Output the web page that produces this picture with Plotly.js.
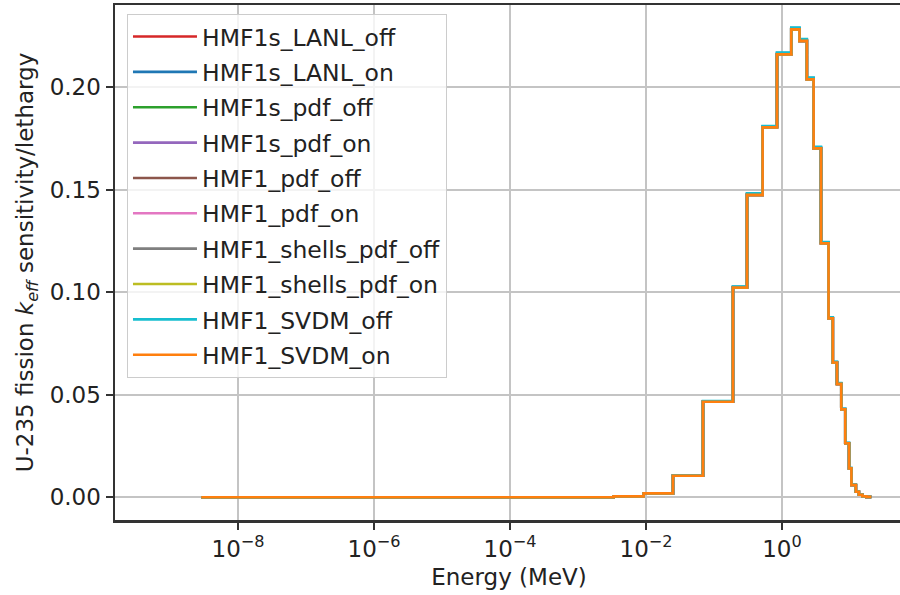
<!DOCTYPE html>
<html>
<head>
<meta charset="utf-8">
<script src="https://cdn.plot.ly/plotly-3.0.1.min.js"></script>
<style>
  html, body { margin: 0; padding: 0; overflow: hidden; background: #fff; }
  #chart { width: 903px; height: 595px; }
</style>
</head>
<body>
<div id="chart"></div>
<script>
// Energy group edges (MeV)
const energyEdges = [2.88e-9, 3.34e-3, 9.22e-3, 0.0249, 0.0689, 0.190, 0.306, 0.519, 0.844,
  1.37, 1.81, 2.32, 2.92, 3.75, 4.84, 5.59, 6.44, 7.45, 8.53, 9.70, 10.5, 12.2, 13.5, 15.2, 17.4, 20.6];

// Sensitivity per lethargy for each group (one value per group)
const sensCommon = [0.0000, 0.0004, 0.0019, 0.0105, 0.0466, 0.1023, 0.1475, 0.1805, 0.2161,
  0.2282, 0.2226, 0.2039, 0.1702, 0.1239, 0.0873, 0.0657, 0.0553, 0.0429, 0.0263, 0.0141,
  0.0060, 0.0027, 0.0012, 0.0005, 0.0002];
const sensLANLon = [0.0000, 0.0004, 0.0019, 0.0105, 0.0468, 0.1026, 0.1480, 0.1809, 0.2167,
  0.2289, 0.2233, 0.2045, 0.1707, 0.1243, 0.0877, 0.0660, 0.0556, 0.0431, 0.0264, 0.0142,
  0.0060, 0.0027, 0.0012, 0.0005, 0.0002];
const sensSVDMoff = [0.0000, 0.0004, 0.0019, 0.0106, 0.0469, 0.1028, 0.1482, 0.1811, 0.2169,
  0.2291, 0.2235, 0.2047, 0.1709, 0.1245, 0.0878, 0.0661, 0.0557, 0.0432, 0.0265, 0.0142,
  0.0061, 0.0027, 0.0012, 0.0005, 0.0002];

const seriesNames = ['HMF1s_LANL_off', 'HMF1s_LANL_on', 'HMF1s_pdf_off', 'HMF1s_pdf_on',
  'HMF1_pdf_off', 'HMF1_pdf_on', 'HMF1_shells_pdf_off', 'HMF1_shells_pdf_on',
  'HMF1_SVDM_off', 'HMF1_SVDM_on'];
const seriesValues = [sensCommon, sensLANLon, sensCommon, sensCommon, sensCommon, sensCommon,
  sensCommon, sensCommon, sensSVDMoff, sensCommon];
const seriesColors = ['#d62728', '#1f77b4', '#2ca02c', '#9467bd', '#8c564b', '#e377c2',
  '#7f7f7f', '#bcbd22', '#17becf', '#ff7f0e'];

const xTickVals = [1e-8, 1e-6, 1e-4, 1e-2, 1e0];
const xTickText = ['10<sup>−8</sup>', '10<sup>−6</sup>', '10<sup>−4</sup>', '10<sup>−2</sup>', '10<sup>0</sup>'];
const yTickVals = [0, 0.05, 0.10, 0.15, 0.20];

const FONT = 'DejaVu Sans, sans-serif';

const traces = seriesNames.map((name, i) => {
  const vals = seriesValues[i];
  return {
    type: 'scatter',
    mode: 'lines',
    name: name,
    legendgroup: 'g' + i,
    x: energyEdges.slice(),
    y: vals.concat([vals[vals.length - 1]]),
    line: { shape: 'hv', color: seriesColors[i], width: 2.6 }
  };
});

const layout = {
  width: 903,
  height: 595,
  margin: { l: 115, r: 0, t: 5, b: 75 },
  paper_bgcolor: '#ffffff',
  plot_bgcolor: '#ffffff',
  font: { family: FONT, size: 23, color: '#222' },
  showlegend: true,
  legend: {
    x: 0.0152, y: 0.983, xanchor: 'left', yanchor: 'top',
    bgcolor: 'rgba(255,255,255,0.8)',
    bordercolor: '#cccccc', borderwidth: 1,
    font: { family: FONT, size: 23.5, color: '#222' },
    itemwidth: 64,
    tracegroupgap: 1.8,
    traceorder: 'grouped'
  },
  xaxis: {
    type: 'log',
    range: [-9.81, 1.78],
    tickmode: 'array',
    tickvals: xTickVals,
    ticktext: xTickText,
    ticks: 'outside', ticklen: 7, tickwidth: 2, tickcolor: '#333',
    showgrid: true, gridcolor: '#c4c4c4', gridwidth: 2,
    showline: true, linecolor: '#333', linewidth: 2.5, mirror: true,
    zeroline: false,
    tickfont: { family: FONT, size: 23, color: '#222' },
    title: { text: 'Energy (MeV)', font: { family: FONT, size: 23, color: '#222' }, standoff: 8 }
  },
  yaxis: {
    range: [-0.0111, 0.2401],
    tickmode: 'array',
    tickvals: yTickVals,
    tickformat: '.2f',
    ticks: 'outside', ticklen: 7, tickwidth: 2, tickcolor: '#333',
    showgrid: true, gridcolor: '#c4c4c4', gridwidth: 2,
    showline: true, linecolor: '#333', linewidth: 2.5, mirror: true,
    zeroline: false,
    tickfont: { family: FONT, size: 23, color: '#222' },
    title: { text: 'U-235 fission <i>k</i><sub><i>eff</i></sub> sensitivity/lethargy',
      font: { family: FONT, size: 23, color: '#222' }, standoff: 10 }
  }
};

Plotly.newPlot('chart', traces, layout, { staticPlot: true, displayModeBar: false });
</script>
</body>
</html>
